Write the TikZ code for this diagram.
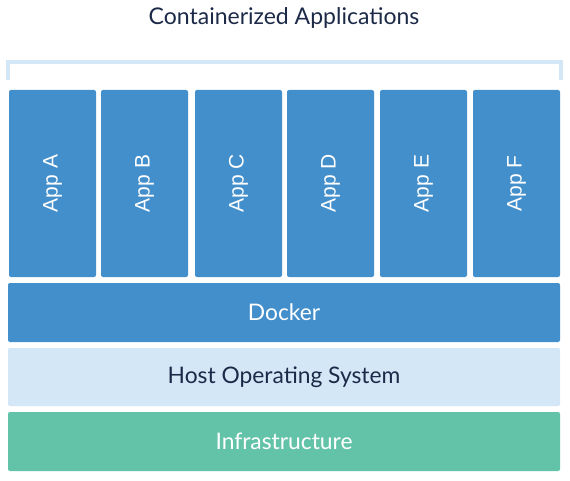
\documentclass[tikz,border=0pt]{standalone}
\usepackage{fontspec}
\setmainfont{Lato}
\newfontfamily\appfont{Liberation Sans}
\definecolor{dockerblue}{HTML}{438FCB}
\definecolor{hostblue}{HTML}{D3E7F7}
\definecolor{infragreen}{HTML}{63C3A8}
\definecolor{navy}{HTML}{1C2A48}
\begin{document}
\begin{tikzpicture}[x=1pt,y=-1pt,
    layer/.style={rounded corners=2pt,inner sep=0pt,minimum width=552pt,minimum height=59pt,font=\fontsize{22.8}{26}\selectfont},
    bracket/.style={draw=hostblue,line width=3.5pt}]
            \useasboundingbox (0,0) rectangle (570,481);

            \node[anchor=base,text=navy,font=\fontsize{23}{26}\selectfont] (title) at (284,25) {Containerized Applications};

            \begin{scope}[every node/.style={rounded corners=2pt,inner sep=0pt,fill=dockerblue,text=white,
                minimum width=187pt,minimum height=87pt,rotate=90,font=\appfont\fontsize{21}{24}\selectfont}]
                \node (appA) at (52.5,183.5) {App A};
                \node (appB) at (144.5,183.5) {App B};
                \node (appC) at (238.5,183.5) {App C};
                \node (appD) at (330.5,183.5) {App D};
                \node (appE) at (423.5,183.5) {App E};
                \node (appF) at (516.5,183.5) {App F};
            \end{scope}

            \node[layer,fill=dockerblue,text=white] (docker) at (284,312.5) {Docker};
            \node[layer,fill=hostblue,text=navy,minimum height=58pt] (host) at (284,377) {Host Operating System};
            \node[layer,fill=infragreen,text=white] (infra) at (284,441.5) {Infrastructure};

            \draw[bracket] (8,80) |- (561,62) -- (561,80);
        \end{tikzpicture}
\end{document}
